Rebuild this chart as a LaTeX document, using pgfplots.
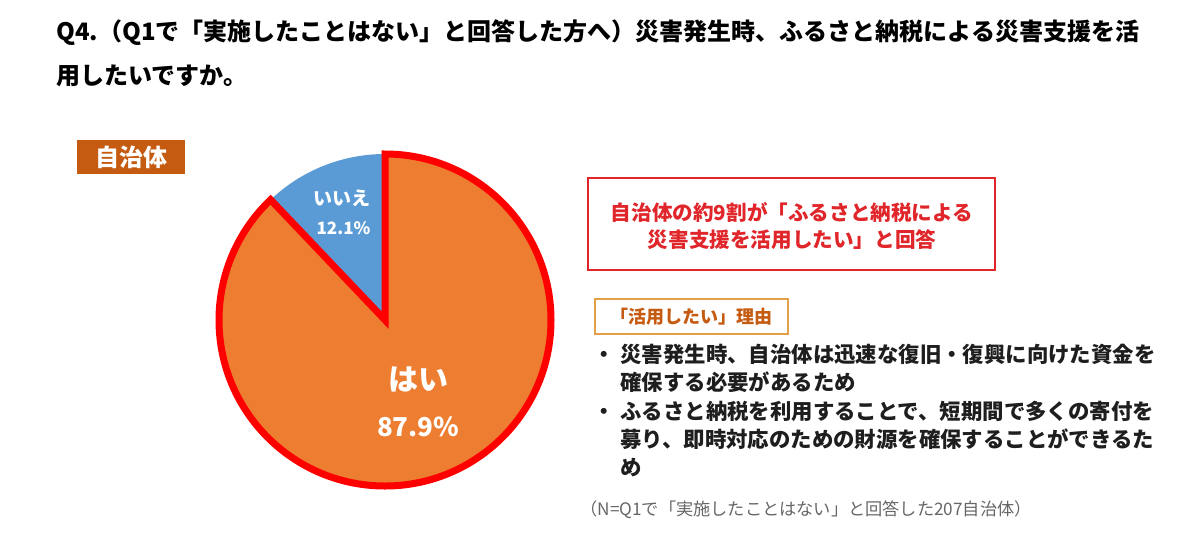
\documentclass[border=0pt]{standalone}
\usepackage{pgfplots}
\pgfplotsset{compat=1.18}
\usepackage{pgfplotstable}
\usepackage{fontspec}
\setmainfont{Noto Sans CJK JP}
\definecolor{pieorange}{HTML}{ED7D31}
\definecolor{pieblue}{HTML}{5B9BD5}
\definecolor{tagbrown}{HTML}{C55A11}
\definecolor{boxred}{HTML}{E0262A}
\definecolor{tagline}{HTML}{E3A048}
\definecolor{bodytxt}{HTML}{1E1E1E}
\definecolor{notegray}{HTML}{666666}

\pgfplotstableread{
value
12.1
87.9
}\piedata

\begin{document}
\begin{tikzpicture}
\begin{scope}[x=0.5pt,y=-0.5pt]
\path[use as bounding box] (0,0) rectangle (1200,542);
\coordinate (pc) at (385,320);
% title
\node[anchor=west, inner sep=0pt, font=\fontsize{12}{14}\selectfont\bfseries] at (56,33) {Q4.（Q1で「実施したことはない」と回答した方へ）災害発生時、ふるさと納税による災害支援を活};
\node[anchor=west, inner sep=0pt, font=\fontsize{12}{14}\selectfont\bfseries] at (56,76) {用したいですか。};
% tag
\fill[tagbrown] (77,140) rectangle (185,174);
\node[white, font=\fontsize{12}{14}\selectfont\bfseries] at (131,157) {自治体};
% red box
\draw[boxred, line width=0.8pt] (588,178) rectangle (995,270);
\node[boxred, font=\fontsize{10.3}{12}\selectfont\bfseries] at (792,212) {自治体の約9割が「ふるさと納税による};
\node[boxred, font=\fontsize{10.3}{12}\selectfont\bfseries] at (792,240) {災害支援を活用したい」と回答};
% reason tag
\draw[tagline, line width=0.9pt] (595,299) rectangle (788,334);
\node[tagbrown, font=\fontsize{9}{11}\selectfont\bfseries] at (691,317) {「活用したい」理由};
% bullets
\begin{scope}[every node/.style={anchor=base west, inner sep=0pt, text=bodytxt, font=\fontsize{10.7}{12}\selectfont\bfseries}]
\node at (593,362) {・};
\node at (620,362) {災害発生時、自治体は迅速な復旧・復興に向けた資金を};
\node at (620,390) {確保する必要があるため};
\node at (593,419) {・};
\node at (620,419) {ふるさと納税を利用することで、短期間で多くの寄付を};
\node at (620,447) {募り、即時対応のための財源を確保することができるた};
\node at (620,475) {め};
\end{scope}
% note
\node[anchor=west, inner sep=0pt, text=notegray, font=\fontsize{8.6}{10}\selectfont] at (580,510) {（N=Q1で「実施したことはない」と回答した207自治体）};
\end{scope}

\pgfplotstablegetelem{0}{value}\of\piedata \pgfmathsetmacro\vno{\pgfplotsretval}
\pgfplotstablegetelem{1}{value}\of\piedata \pgfmathsetmacro\vyes{\pgfplotsretval}
\pgfmathsetmacro\ano{3.6*\vno}
\pgfmathsetmacro\ayes{3.6*\vyes}

\begin{axis}[at={(pc)}, anchor=center, scale only axis, width=166pt, height=166pt,
  xmin=-1, xmax=1, ymin=-1, ymax=1, hide axis, clip=false]
\fill[pieblue] (axis cs:0,0) -- (axis cs:0,1) arc[start angle=90, delta angle=\ano, radius=83pt] -- cycle;
\filldraw[fill=pieorange, draw=red, line width=3.5pt, miter limit=10] (axis cs:0,0) -- (axis cs:0,1) arc[start angle=90, delta angle=-\ayes, radius=83pt] -- cycle;
\node[white, font=\fontsize{9.5}{11}\selectfont\bfseries] at (axis cs:-0.26,0.735) {いいえ};
\node[white, font=\fontsize{8.5}{10}\selectfont\bfseries] at (axis cs:-0.25,0.555) {\pgfmathprintnumber[fixed,precision=1,fixed zerofill,assume math mode=true]{\vno}\%};
\node[white, font=\fontsize{15}{17}\selectfont\bfseries] at (axis cs:0.2,-0.36) {はい};
\node[white, font=\fontsize{13}{15}\selectfont\bfseries] at (axis cs:0.2,-0.645) {\pgfmathprintnumber[fixed,precision=1,fixed zerofill,assume math mode=true]{\vyes}\%};
\end{axis}
\end{tikzpicture}
\end{document}
